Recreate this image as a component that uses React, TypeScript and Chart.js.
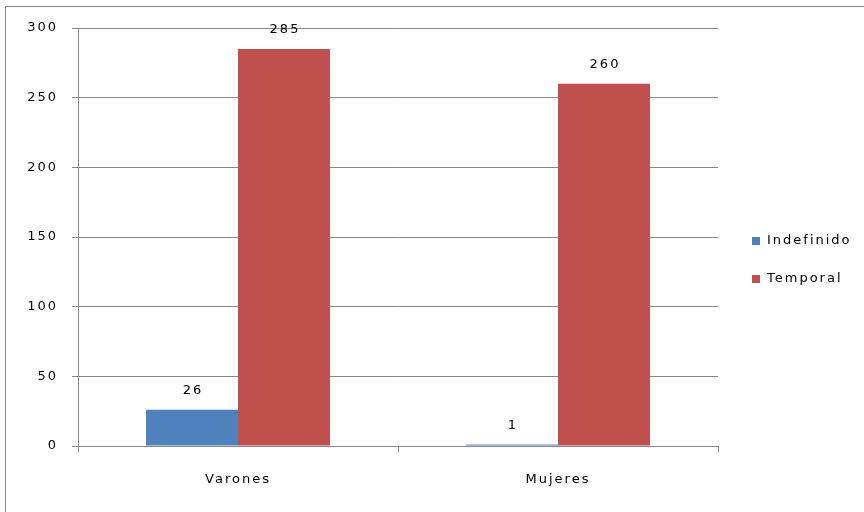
import React, { useEffect, useRef } from "react";
import { Chart, registerables } from "chart.js";

Chart.register(...registerables);

const categories = ["Varones", "Mujeres"];
const seriesNames = ["Indefinido", "Temporal"];
const indefinido = [26, 1];
const temporal = [285, 260];
const yTicks = [0, 50, 100, 150, 200, 250, 300];

const colors = ["#4F81BD", "#C0504D"];
const FONT = "13px 'DejaVu Sans'";
const SPACING = "2px";

const App = () => {
  const ref = useRef<HTMLCanvasElement | null>(null);

  useEffect(() => {
    const canvas = ref.current;
    if (!canvas) return;

    const spacingPlugin = {
      id: "spacing",
      beforeLayout(chart: any) {
        chart.ctx.letterSpacing = SPACING;
      },
      beforeDraw(chart: any) {
        const ctx = chart.ctx;
        ctx.letterSpacing = SPACING;
        ctx.save();
        ctx.strokeStyle = "#8a8a8a";
        ctx.lineWidth = 1;
        ctx.strokeRect(5.5, 6.5, 880, 520);
        ctx.restore();
      },
    };

    const labelPlugin = {
      id: "labels",
      afterDatasetsDraw(chart: any) {
        const ctx = chart.ctx;
        ctx.save();
        ctx.letterSpacing = SPACING;
        ctx.font = FONT;
        ctx.fillStyle = "#000";
        ctx.textAlign = "center";
        ctx.textBaseline = "middle";
        chart.data.datasets.forEach((ds: any, i: number) => {
          const meta = chart.getDatasetMeta(i);
          meta.data.forEach((bar: any, j: number) => {
            ctx.fillText(String(ds.data[j]), bar.x + 1, bar.y - 19);
          });
        });
        // legend
        const lx = 752;
        const ly = [241, 279];
        seriesNames.forEach((name, i) => {
          ctx.fillStyle = colors[i];
          ctx.fillRect(lx, ly[i] - 4, 8, 8);
          ctx.fillStyle = "#000";
          ctx.textAlign = "left";
          ctx.fillText(name, lx + 15, ly[i]);
        });
        ctx.restore();
      },
    };

    const chart = new Chart(canvas, {
      type: "bar",
      data: {
        labels: categories,
        datasets: [
          {
            label: seriesNames[0],
            data: indefinido,
            backgroundColor: colors[0],
            barPercentage: 1,
            categoryPercentage: 0.575,
          },
          {
            label: seriesNames[1],
            data: temporal,
            backgroundColor: colors[1],
            barPercentage: 1,
            categoryPercentage: 0.575,
          },
        ],
      },
      options: {
        responsive: false,
        animation: false,
        devicePixelRatio: 1,
        layout: { padding: { left: 0, right: 146, top: 28, bottom: 0 } },
        plugins: {
          legend: { display: false },
          tooltip: { enabled: false },
        },
        scales: {
          x: {
            offset: true,
            grid: {
              drawOnChartArea: false,
              drawTicks: true,
              tickLength: 6,
              color: "#878787",
            },
            border: { color: "#878787" },
            ticks: {
              font: { family: "'DejaVu Sans'", size: 13 },
              color: "#000",
              padding: 20,
            },
            afterFit(scale: any) {
              scale.height = 66;
            },
          },
          y: {
            min: 0,
            max: 300,
            afterBuildTicks(scale: any) {
              scale.ticks = yTicks.map((v) => ({ value: v }));
            },
            grid: {
              color: "#878787",
              tickLength: 6,
            },
            border: { color: "#878787" },
            ticks: {
              font: { family: "'DejaVu Sans'", size: 13 },
              color: "#000",
              padding: 14,
            },
            afterFit(scale: any) {
              scale.width = 78;
            },
          },
        },
      },
      plugins: [spacingPlugin, labelPlugin],
    });

    return () => chart.destroy();
  }, []);

  return (
    <div style={{ position: "fixed", left: 0, top: 0, width: 864, height: 512, background: "#fff" }}>
      <canvas ref={ref} width={864} height={512} style={{ display: "block" }} />
    </div>
  );
};

export default App;
